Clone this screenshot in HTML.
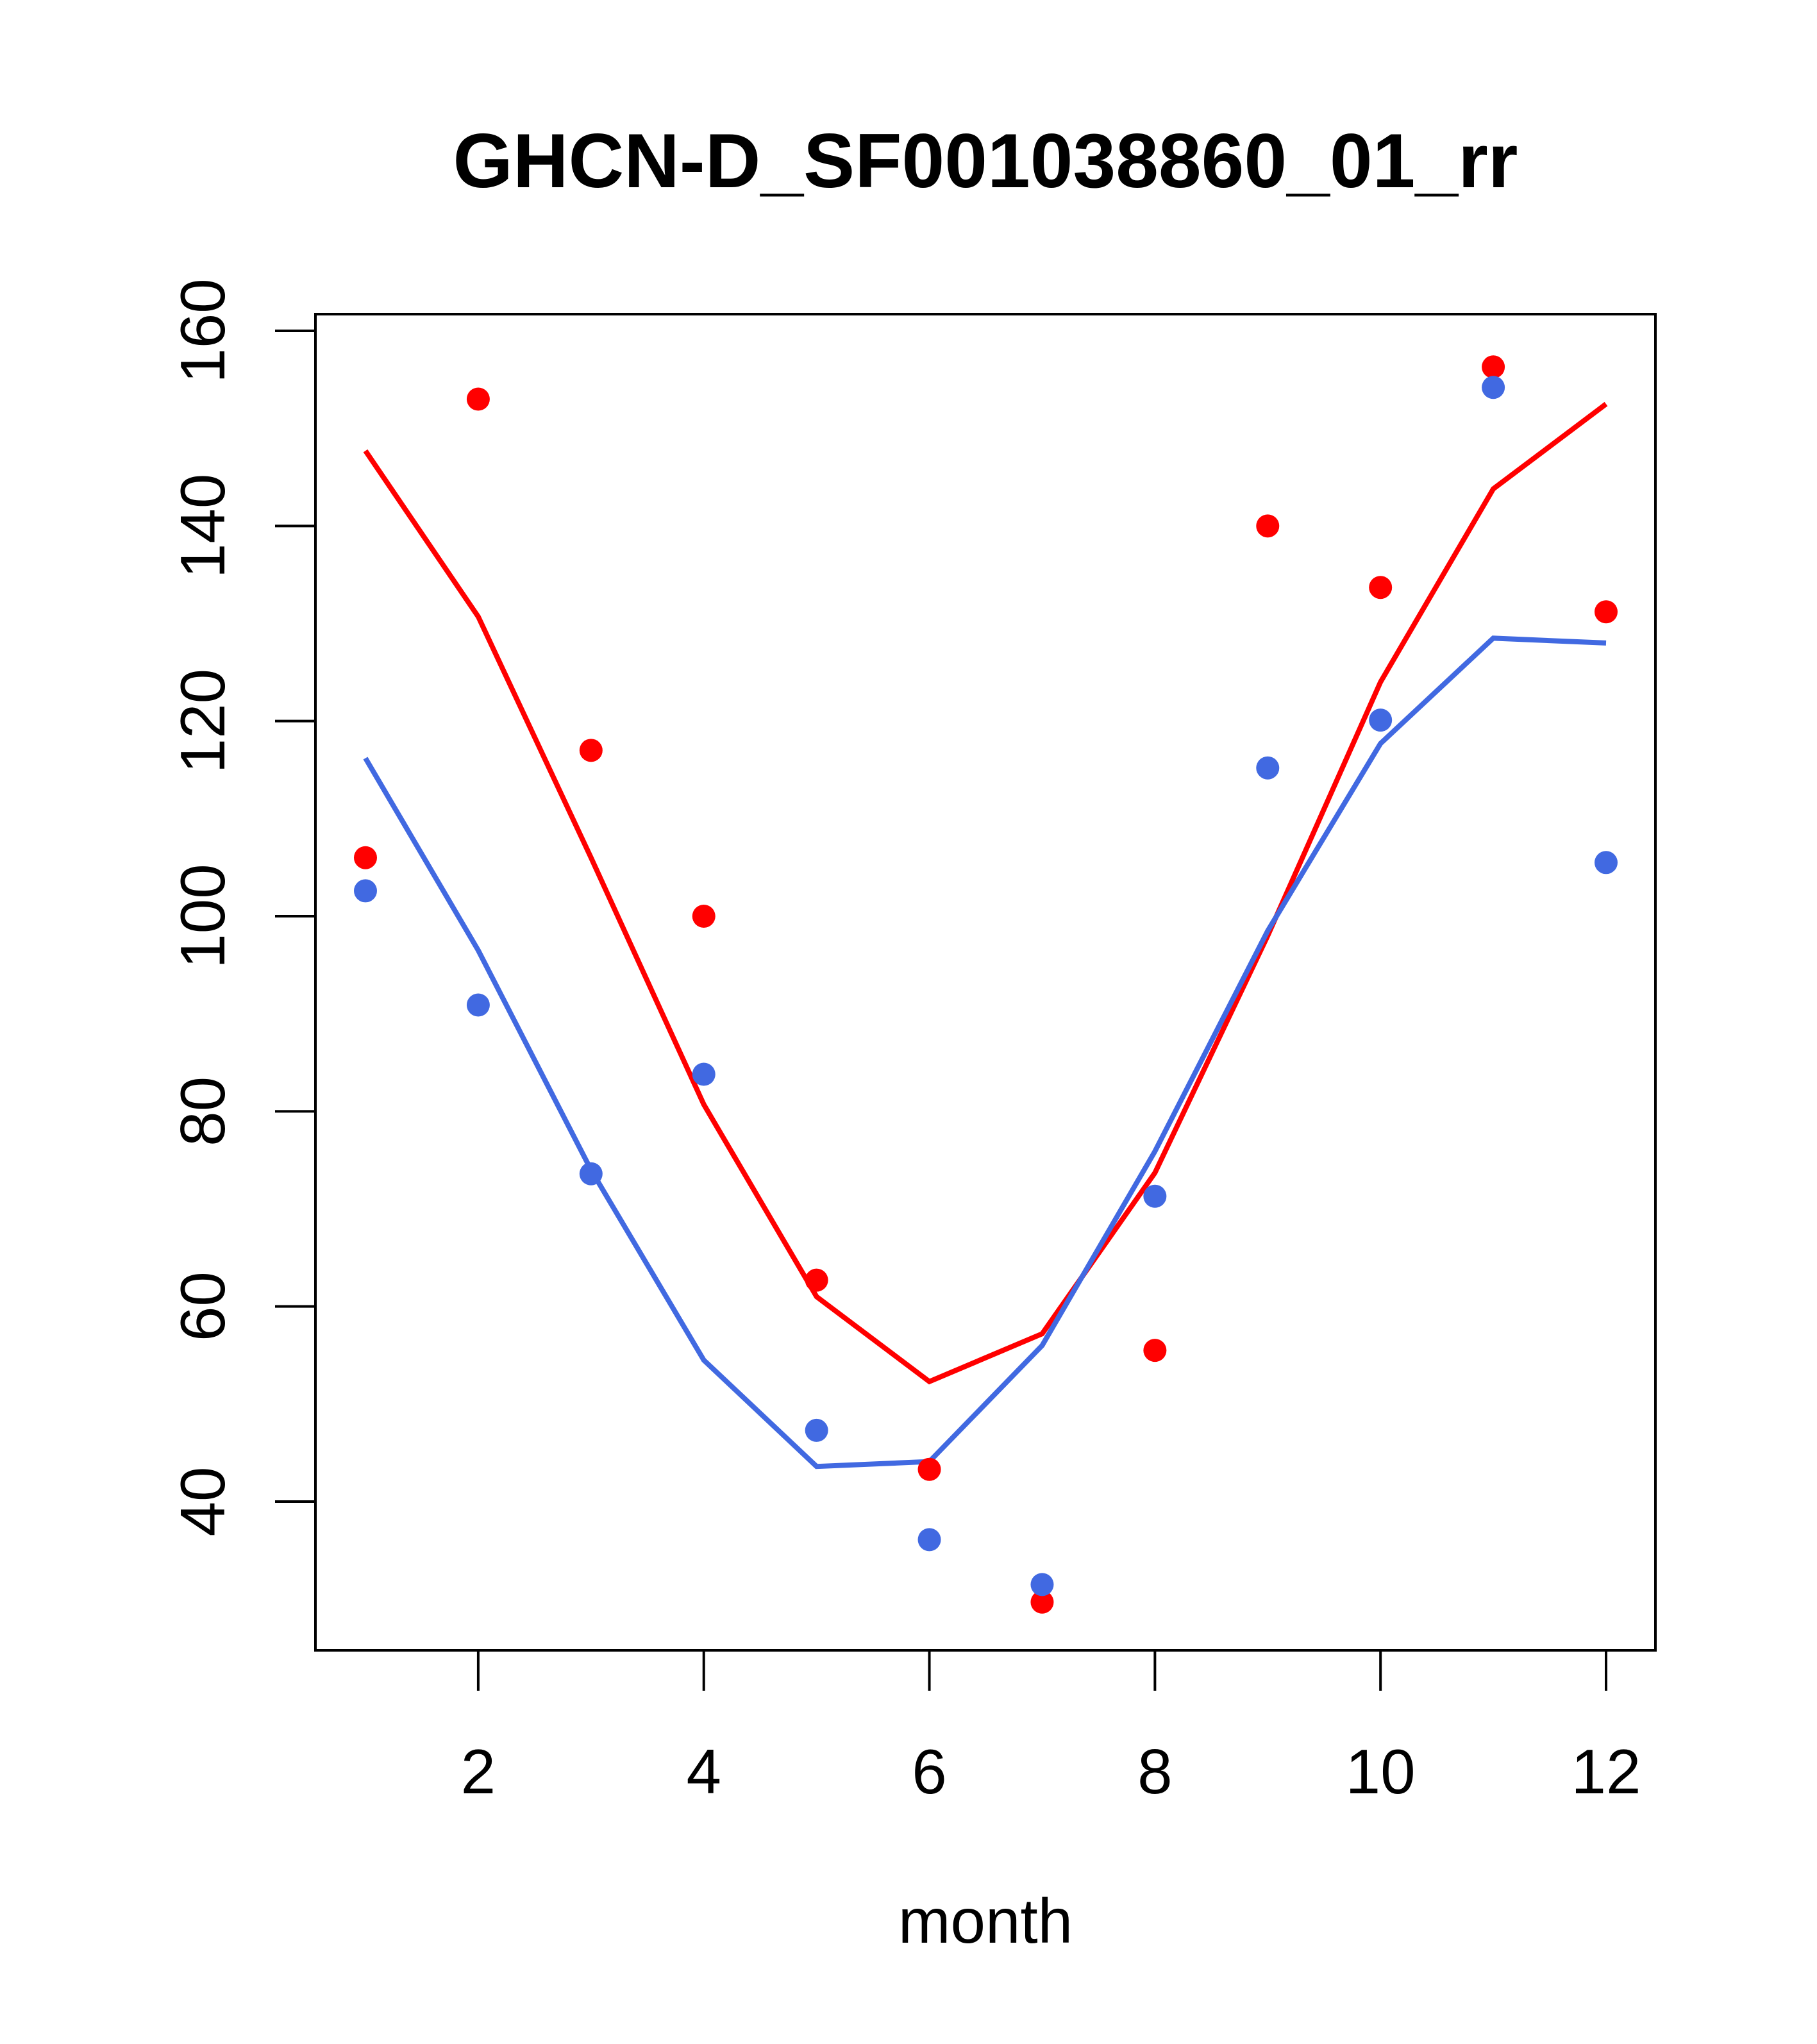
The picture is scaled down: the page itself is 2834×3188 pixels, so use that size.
<!DOCTYPE html>
<html><head><meta charset="utf-8"><style>
html,body{margin:0;padding:0;background:#fff;}
svg{display:block;}
text{font-family:"Liberation Sans",Arial,sans-serif;fill:#000;}
</style></head><body>
<svg id="chart" width="2834" height="3188" viewBox="0 0 2834 3188" xmlns="http://www.w3.org/2000/svg">
<text x="1537" y="292" font-size="120" font-weight="bold" text-anchor="middle">GHCN-D_SF001038860_01_rr</text>
<rect x="492" y="490" width="2090" height="2084" fill="none" stroke="#000" stroke-width="4"/>
<g id="xaxis"></g>
<g id="yaxis"></g>
<text x="1537" y="3030" font-size="98" text-anchor="middle">month</text>
<g id="marks"></g>
</svg>
<script>
const months=[1,2,3,4,5,6,7,8,9,10,11,12];
const redPoints=[106,153,117,100,62.7,43.3,29.7,55.5,140,133.7,156.3,131.2];
const redLine=[147.7,130.7,106,80.7,61,52.3,57.2,73.7,98,124,143.8,152.5];
const bluePoints=[102.6,90.9,73.6,83.8,47.3,36.1,31.5,71.3,115.2,120.1,154.2,105.5];
const blueLine=[116.2,96.5,74,54.5,43.6,44.1,56,75.9,98.5,117.7,128.5,128];
const xTicks=[2,4,6,8,10,12];
const yTicks=[40,60,80,100,120,140,160];
const NS="http://www.w3.org/2000/svg";
function X(m){return 570+(m-1)*(2505-570)/11;}
function Y(v){return 2342-(v-40)*(2342-516)/120;}
function mk(t,a,p){const e=document.createElementNS(NS,t);for(const k in a)e.setAttribute(k,a[k]);p.appendChild(e);return e;}
const xa=document.getElementById('xaxis'),ya=document.getElementById('yaxis'),mg=document.getElementById('marks');
mk('line',{x1:X(2),x2:X(12),y1:2574,y2:2574,stroke:'#000','stroke-width':4},xa);
xTicks.forEach(t=>{
 const l=mk('line',{x1:X(t),x2:X(t),y1:2574,y2:2637,stroke:'#000','stroke-width':4},xa);
 
 
 const tx=mk('text',{x:X(t),y:2797,'font-size':98,'text-anchor':'middle'},xa);tx.textContent=t;
 
 
});
yTicks.forEach(t=>{
 const l=mk('line',{x1:429,x2:492,y1:Y(t),y2:Y(t),stroke:'#000','stroke-width':4},ya);
 
 
 const tx=mk('text',{x:0,y:0,'font-size':98,'text-anchor':'middle',transform:`translate(350,${Y(t)}) rotate(-90)`},ya);tx.textContent=t;
 
 
});
mk('line',{x1:492,x2:492,y1:Y(40),y2:Y(160),stroke:'#000','stroke-width':4},ya);
function line(vals,c,name){
 const p=mk('polyline',{points:vals.map((v,i)=>X(months[i])+','+Y(v)).join(' '),fill:'none',stroke:c,'stroke-width':8},mg);
 
 
}
function pts(vals,c,name){
 vals.forEach((v,i)=>{
  const e=mk('circle',{cx:X(months[i]),cy:Y(v),r:18,fill:c},mg);
  
  
 });
}
line(redLine,'#ff0000','red-line');
line(blueLine,'#4169e1','blue-line');
pts(redPoints,'#ff0000','red-point');
pts(bluePoints,'#4169e1','blue-point');
</script>
</body></html>
